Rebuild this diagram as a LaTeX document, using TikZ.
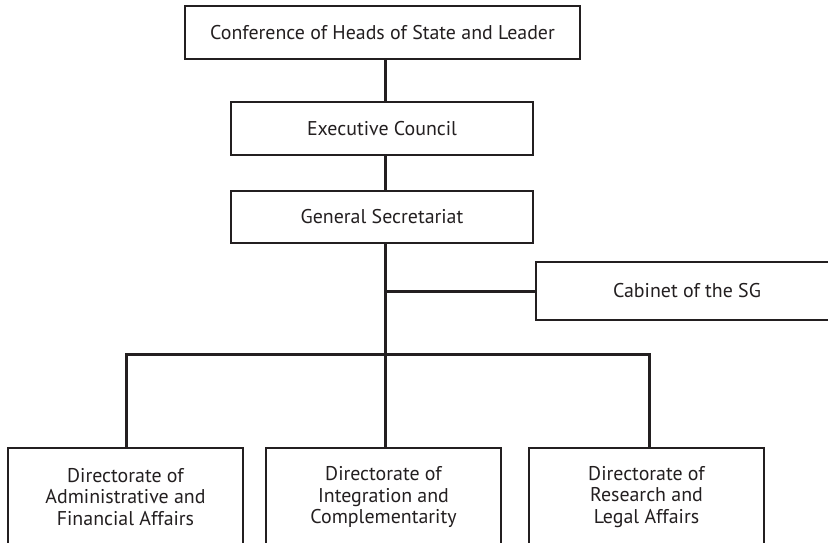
\documentclass[tikz,border=0pt]{standalone}
\usepackage{fontspec}
\setmainfont{PT Sans}
\definecolor{ink}{RGB}{35,31,32}
\begin{document}
\begin{tikzpicture}[x=1pt,y=-1pt,
  box/.style={draw=ink,line width=1.8pt,rectangle,inner sep=0pt,align=center,
    font=\fontsize{19.9}{21.5}\selectfont,text=ink},
  conn/.style={draw=ink,line width=3pt,line join=miter}]
\clip (0,0) rectangle (828,543);
\fill[white] (0,0) rectangle (828,543);
\node[box,minimum width=395pt,minimum height=53pt] (chs) at (382.5,32.5) {Conference of Heads of State and Leader};
\node[box,minimum width=302pt,minimum height=53pt] (ec) at (382,128.5) {Executive Council};
\node[box,minimum width=302pt,minimum height=52pt] (gs) at (382,217) {General Secretariat};
\node[box,minimum width=302pt,minimum height=58pt] (cab) at (687,291) {Cabinet of the SG};
\node[box,minimum width=235pt,minimum height=98pt] (d1) at (125.5,497) {Directorate of\\Administrative and\\Financial Affairs};
\node[box,minimum width=235pt,minimum height=98pt] (d2) at (383.5,497) {Directorate of\\Integration and\\Complementarity};
\node[box,minimum width=235pt,minimum height=98pt] (d3) at (646.5,497) {Directorate of\\Research and\\Legal Affairs};
\coordinate (sp) at (385,0);
\coordinate (bar) at (0,354);
\coordinate (v1) at (126,0);
\coordinate (v3) at (649,0);
\draw[conn] (chs.south -| sp) -- (ec.north -| sp);
\draw[conn] (ec.south -| sp) -- (gs.north -| sp);
\draw[conn] (gs.south -| sp) -- (d2.north -| sp);
\draw[conn] (sp |- cab.west) -- (cab.west);
\draw[conn] (d1.north -| v1) -- (v1 |- bar) -- (v3 |- bar) -- (d3.north -| v3);
\end{tikzpicture}
\end{document}
